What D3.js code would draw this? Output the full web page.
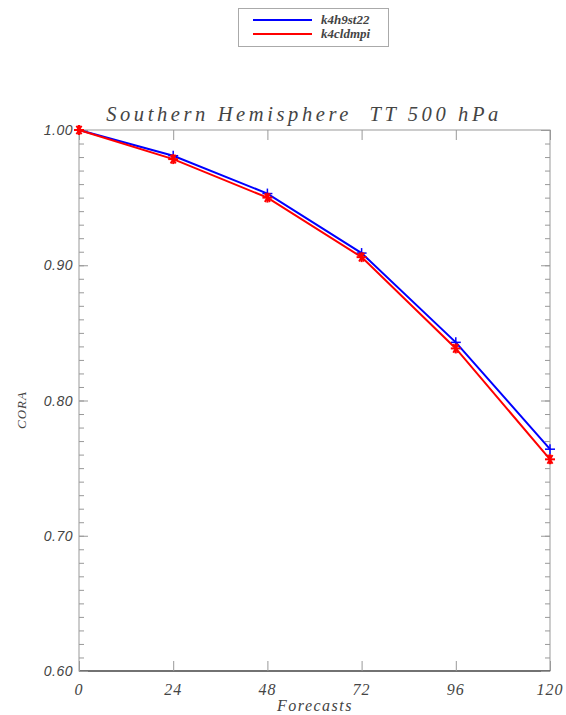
<!DOCTYPE html>
<html><head><meta charset="utf-8">
<script src="https://cdn.jsdelivr.net/npm/d3@7"></script>
<style>body{margin:0;background:#fff}</style>
</head><body>
<svg id="c" width="566" height="715"></svg>
<script>
const forecasts = [0, 24, 48, 72, 96, 120];
const seriesNames = ["k4h9st22", "k4cldmpi"];
const k4h9st22 = [1.0, 0.981, 0.953, 0.909, 0.843, 0.764];
const k4cldmpi = [1.0, 0.9785, 0.950, 0.906, 0.8385, 0.7565];
const xTicks = [0, 24, 48, 72, 96, 120];
const yTicks = [0.60, 0.70, 0.80, 0.90, 1.00];
const colors = ["#0000ff", "#ff0000"];

const svg = d3.select("#c");
const L = 79, R = 550, T = 130, B = 671;
const x = d3.scaleLinear().domain([0, 120]).range([L, R]);
const y = d3.scaleLinear().domain([0.6, 1.0]).range([B, T]);
const axisCol = "#999", textCol = "#444";

// frame
svg.append("rect").attr("x", L).attr("y", T).attr("width", R - L).attr("height", B - T)
  .attr("fill", "none").attr("stroke", axisCol).attr("stroke-width", 1);
svg.append("line").attr("x1", L).attr("x2", R).attr("y1", B).attr("y2", B).attr("stroke", "#555").attr("stroke-width", 1.5);

// y axes (left/right) with minor ticks
const minor = d3.range(60, 101).map(v => v / 100);
const gL = svg.append("g").attr("transform", `translate(${L},0)`)
  .call(d3.axisRight(y).tickValues(minor).tickSize(5).tickFormat(""));
const gL2 = svg.append("g").attr("transform", `translate(${L},0)`)
  .call(d3.axisRight(y).tickValues(yTicks).tickSize(9).tickFormat(""));
const gR = svg.append("g").attr("transform", `translate(${R},0)`)
  .call(d3.axisLeft(y).tickValues(minor).tickSize(5).tickFormat(""));
const gR2 = svg.append("g").attr("transform", `translate(${R},0)`)
  .call(d3.axisLeft(y).tickValues(yTicks).tickSize(9).tickFormat(""));
// x axes
const gB = svg.append("g").attr("transform", `translate(0,${B})`)
  .call(d3.axisTop(x).tickValues(xTicks).tickSize(10).tickFormat(""));
const gT = svg.append("g").attr("transform", `translate(0,${T})`)
  .call(d3.axisBottom(x).tickValues(xTicks).tickSize(10).tickFormat(""));
[gL, gL2, gR, gR2, gB, gT].forEach(g => {
  g.select(".domain").remove();
  g.selectAll("line").attr("stroke", axisCol);
});

// y tick labels
svg.append("g").selectAll("text").data(yTicks).join("text")
  .attr("x", L - 6).attr("y", d => y(d) + 5).attr("text-anchor", "end")
  .attr("font-family", "Liberation Sans").attr("font-style", "italic")
  .attr("font-size", 14).attr("letter-spacing", 0.5).attr("fill", textCol).text(d => d.toFixed(2));
// x tick labels
svg.append("g").selectAll("text").data(xTicks).join("text")
  .attr("x", d => x(d)).attr("y", B + 24).attr("text-anchor", "middle")
  .attr("font-family", "Liberation Serif").attr("font-style", "italic")
  .attr("font-size", 16).attr("letter-spacing", 1).attr("fill", textCol).text(d => d);

// titles
svg.append("text").attr("x", 304).attr("y", 121).attr("text-anchor", "middle")
  .attr("font-family", "Liberation Serif").attr("font-style", "italic")
  .attr("font-size", 20.5).attr("fill", textCol).attr("letter-spacing", 3.6)
  .attr("xml:space", "preserve").text("Southern Hemisphere  TT 500 hPa");
svg.append("text").attr("x", 315).attr("y", 711).attr("text-anchor", "middle")
  .attr("font-family", "Liberation Serif").attr("font-style", "italic")
  .attr("font-size", 16).attr("letter-spacing", 1.5).attr("fill", textCol).text("Forecasts");
svg.append("text").attr("transform", "translate(26,410) rotate(-90)").attr("text-anchor", "middle")
  .attr("font-family", "Liberation Serif").attr("font-style", "italic")
  .attr("font-size", 13).attr("letter-spacing", 1).attr("fill", textCol).text("CORA");

// series
const series = [k4h9st22, k4cldmpi];
const line = d3.line().x((d, i) => x(forecasts[i])).y(d => y(d));
series.forEach((s, k) => {
  svg.append("path").datum(s).attr("d", line).attr("fill", "none")
    .attr("stroke", colors[k]).attr("stroke-width", 2);
  const g = svg.append("g");
  s.forEach((v, i) => {
    const cx = x(forecasts[i]), cy = y(v);
    const m = g.append("g").attr("transform", `translate(${cx},${cy})`);
    const r = 5;
    const angs = k === 0 ? [0, 90] : [0, 60, 120];
    angs.forEach(a => {
      const rad = a * Math.PI / 180;
      const dx = r * Math.cos(rad), dy = r * Math.sin(rad);
      if (k === 1 && a === 0) {
        m.append("line").attr("x1", 0).attr("y1", -r).attr("x2", 0).attr("y2", r)
          .attr("stroke", colors[k]).attr("stroke-width", 2);
      }
      m.append("line").attr("x1", -dx).attr("y1", -dy).attr("x2", dx).attr("y2", dy)
        .attr("stroke", colors[k]).attr("stroke-width", k === 0 ? 1.5 : 2);
    });
  });
});

// legend
const lg = svg.append("g");
lg.append("rect").attr("x", 238.5).attr("y", 8.5).attr("width", 150).attr("height", 38)
  .attr("fill", "#fff").attr("stroke", "#aaa");
seriesNames.forEach((n, i) => {
  const yy = 20 + i * 14;
  lg.append("line").attr("x1", 253).attr("x2", 312).attr("y1", yy).attr("y2", yy)
    .attr("stroke", colors[i]).attr("stroke-width", 2);
  lg.append("text").attr("x", 321).attr("y", yy + 4)
    .attr("font-family", "Liberation Serif").attr("font-style", "italic").attr("font-weight", "bold")
    .attr("font-size", 13).attr("fill", textCol).text(n);
});
</script>
</body></html>
